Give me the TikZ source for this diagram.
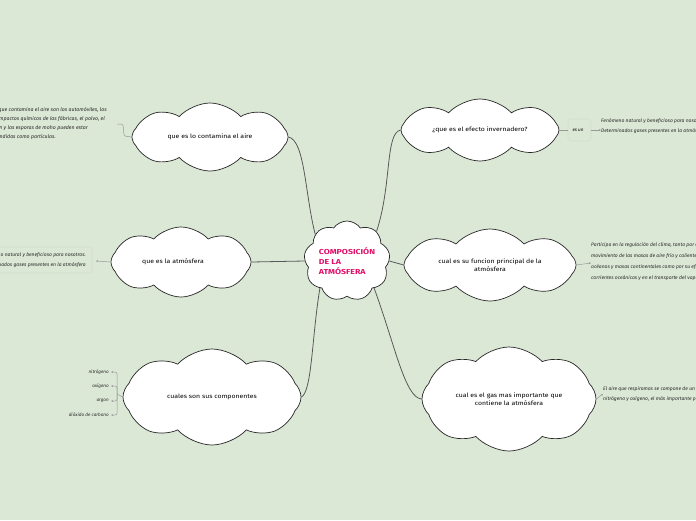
\documentclass[tikz,border=0pt]{standalone}
\usepackage{fontspec}
\setmainfont{Fira Sans}
\newfontfamily\titlefont[FakeStretch=1.22]{Fira Sans}
\newfontfamily\labelfont[FakeStretch=1.15]{Fira Sans}
\usetikzlibrary{shapes.symbols,arrows.meta}
\definecolor{bgc}{RGB}{220,232,214}
\definecolor{titlepink}{RGB}{226,16,106}
\definecolor{boxline}{RGB}{208,222,202}
\begin{document}
\begin{tikzpicture}[x=1pt,y=-1pt,
  cloudnode/.style={cloud, cloud puffs=8, cloud puff arc=95, cloud ignores aspect, draw=black!85, line width=0.7pt, fill=white, align=center, inner sep=0pt, font=\fontsize{6}{8}\selectfont\labelfont},
  conn/.style={draw=black!65, line width=0.8pt},
  sub/.style={draw=black!40, line width=0.5pt},
  subarrow/.style={sub, -{Stealth[length=2.2pt,width=2pt]}},
  desc/.style={font=\fontsize{5}{10.5}\selectfont\itshape, text=black!85, align=left, inner sep=0pt},
  line/.style={font=\fontsize{5.2}{6}\selectfont\itshape, text=black!85, inner sep=0pt, anchor=east},
  descbox/.style={draw=boxline, rounded corners=3pt, line width=0.6pt},
  item/.style={font=\fontsize{4.6}{6}\selectfont\itshape, text=black!85, inner sep=0pt, anchor=east}
]
\fill[bgc] (0,0) rectangle (696,520);
\useasboundingbox (0,0) rectangle (696,520);

% central
\node[cloudnode, cloud puffs=9, cloud puff arc=110, minimum width=86, minimum height=80, font=\fontsize{7.2}{10}\selectfont\titlefont\bfseries, text=titlepink, align=left] (c) at (347,261) {COMPOSICIÓN\\DE LA\\ATMÓSFERA};

% topic clouds
\node[cloudnode, minimum width=156, minimum height=68] (n1) at (210,137) {que es lo contamina el aire};
\node[cloudnode, minimum width=140, minimum height=70] (n2) at (181,262) {que es la atmósfera\hspace*{16pt}};
\node[cloudnode, minimum width=178, minimum height=96] (n3) at (212,397) {cuales son sus componentes};
\node[cloudnode, minimum width=158, minimum height=62] (n4) at (480,130) {¿que es el efecto invernadero?};
\node[cloudnode, minimum width=172, minimum height=72] (n5) at (490,265) {cual es su funcion principal de la\\atmósfera};
\node[cloudnode, minimum width=174, minimum height=104] (n6) at (509,399) {cual es el gas mas importante que\\contiene la atmósfera};

% main connectors
\draw[conn] (c.140) .. controls (305,195) and (305,140) .. (n1.east);
\draw[conn] (c.west) -- (n2.east);
\draw[conn] (c.225) .. controls (312,335) and (312,392) .. (n3.east);
\draw[conn] (c.45) .. controls (392,185) and (385,133) .. (n4.west);
\draw[conn] (c.east) -- (n5.west);
\draw[conn] (c.315) .. controls (395,345) and (405,398) .. (n6.west);

% top-left description
\node[line] (d1a) at (107,110) {Lo que contamina el aire son los automóviles, los};
\node[line] (d1b) at (105,119) {los impactos químicos de las fábricas, el polvo, el};
\node[line] (d1c) at (88,128) {polen y las esporas de moho pueden estar};
\node[line] (d1d) at (56,137) {suspendidas como partículas.};
\coordinate (k1) at (117,124);
\draw[sub, rounded corners=1.5pt] (n1.west) -- (124,136) -- (123,124) -- (k1);

% left-middle description
\node[desc, anchor=east, align=right] (d2) at (86,260) {Fenómeno natural y beneficioso para nosotros.\\Determinados gases presentes en la atmósfera};
\draw[descbox] (-10,247) rectangle (92,273);
\coordinate (k2) at (96,261);
\draw[subarrow] (n2.west) -- (k2);

% components
\coordinate (b) at (117,394);
\draw[sub] (n3.west) -- (b);
\node[item] (i1) at (109,372) {nitrógeno};
\node[item] (i2) at (109,386) {oxígeno};
\node[item] (i3) at (109,401) {argon};
\node[item] (i4) at (109,415) {dióxido de carbono};
\foreach \i in {i1,i2,i3,i4}{
  \draw[subarrow, rounded corners=2pt] (b) |- ([xshift=2pt]\i.east);
}

% effect
\node[font=\fontsize{4.6}{6}\selectfont\itshape, inner sep=0pt] (esun) at (578,130) {es un};
\draw[descbox] (568,119) rectangle (591,141);
\draw[sub] (n4.east) -- (568,130);
\node[desc, anchor=west] (d4) at (601,126) {Fenómeno natural y beneficioso para nosotros.\\Determinados gases presentes en la atmósfera};
\draw[subarrow] (591,130) -- (d4.west |- 0,130);

% function
\node[desc, anchor=west, font=\fontsize{5}{11}\selectfont\itshape] (d5) at (591,262) {Participa en la regulación del clima, tanto por el\\movimiento de las masas de aire frío y caliente\\océanos y masas continentales como por su efecto\\corrientes oceánicas y en el transporte del vapor};
\draw[subarrow] (n5.east) -- (d5.west |- 0,263);

% gas
\node[desc, anchor=west] (d6) at (603,394) {El aire que respiramos se compone de un\\nitrógeno y oxígeno, el más importante para};
\draw[subarrow] (n6.east) -- (d6.west |- 0,394);
\end{tikzpicture}
\end{document}
